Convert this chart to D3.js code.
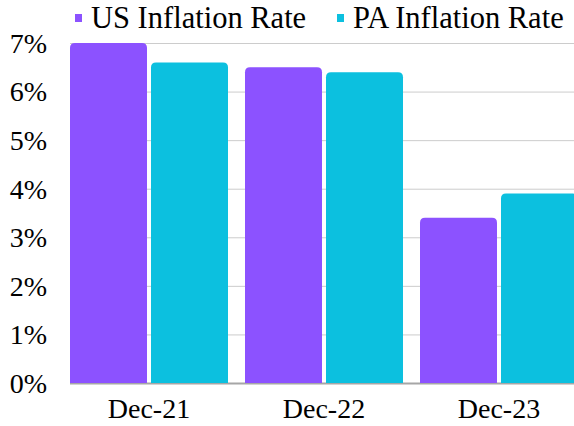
<!DOCTYPE html>
<html>
<head>
<meta charset="utf-8">
<title>Inflation Rate</title>
<script src="https://d3js.org/d3.v7.min.js"></script>
<style>
  html, body { margin: 0; padding: 0; background: #fff; overflow: hidden; }
  text { font-family: "Liberation Serif", "Times New Roman", serif; fill: #000; }
</style>
</head>
<body>
<div id="chart"></div>
<script>
// data
var categories = ["Dec-21", "Dec-22", "Dec-23"];
var seriesNames = ["US Inflation Rate", "PA Inflation Rate"];
var usRate = [0.070, 0.065, 0.034];
var paRate = [0.066, 0.064, 0.039];
var yTicks = [0, 0.01, 0.02, 0.03, 0.04, 0.05, 0.06, 0.07];
var colors = ["#8c52ff", "#0cc0df"];

var width = 574, height = 426;
var plotLeft = 70, plotTop = 43, plotBottom = 383;

var svg = d3.select("#chart").append("svg")
    .attr("width", width)
    .attr("height", height);

// scales
var x0 = d3.scaleBand()
    .domain(categories)
    .range([61.5, 586.5])
    .padding(0);

var x1 = d3.scaleBand()
    .domain(seriesNames)
    .range([8.5, x0.bandwidth() - 8.5])
    .paddingInner(0.0494);

var y = d3.scaleLinear()
    .domain([0, 0.07])
    .range([plotBottom, plotTop]);

// gridlines
svg.append("g").selectAll("line")
    .data(yTicks)
    .join("line")
    .attr("x1", plotLeft)
    .attr("x2", width)
    .attr("y1", function(d) { return y(d) + 0.5; })
    .attr("y2", function(d) { return y(d) + 0.5; })
    .attr("stroke", function(d) { return d === 0 ? "#a6a6a6" : "#cccccc"; })
    .attr("stroke-width", function(d) { return d === 0 ? 2 : 1; });

// y tick labels
svg.append("g").selectAll("text")
    .data(yTicks)
    .join("text")
    .attr("x", 47)
    .attr("y", function(d) { return y(d); })
    .attr("dy", "0.35em")
    .attr("text-anchor", "end")
    .style("font-size", "28px")
    .text(d3.format(".0%"));

// bars with rounded tops
var rows = categories.map(function(c, i) {
  return [
    {cat: c, key: seriesNames[0], v: usRate[i], color: colors[0]},
    {cat: c, key: seriesNames[1], v: paRate[i], color: colors[1]}
  ];
});

function topRounded(x, yTop, w, yBot, r) {
  return "M" + x + "," + yBot +
    "V" + (yTop + r) +
    "Q" + x + "," + yTop + " " + (x + r) + "," + yTop +
    "H" + (x + w - r) +
    "Q" + (x + w) + "," + yTop + " " + (x + w) + "," + (yTop + r) +
    "V" + yBot + "Z";
}

svg.append("g").selectAll("g")
    .data(rows)
    .join("g")
    .attr("transform", function(d) { return "translate(" + x0(d[0].cat) + ",0)"; })
  .selectAll("path")
    .data(function(d) { return d; })
    .join("path")
    .attr("fill", function(d) { return d.color; })
    .attr("d", function(d) {
      return topRounded(x1(d.key), y(d.v), x1.bandwidth(), y(0), 5);
    });

// x labels
svg.append("g").selectAll("text")
    .data(categories)
    .join("text")
    .attr("x", function(d) { return x0(d) + x0.bandwidth() / 2; })
    .attr("y", 418)
    .attr("text-anchor", "middle")
    .style("font-size", "28px")
    .text(function(d) { return d; });

// legend
var legend = svg.append("g");
var legendX = [75, 337];
seriesNames.forEach(function(name, i) {
  var g = legend.append("g").attr("transform", "translate(" + legendX[i] + ",0)");
  g.append("rect")
    .attr("x", 0).attr("y", 14)
    .attr("width", 7).attr("height", 8)
    .attr("fill", colors[i]);
  g.append("text")
    .attr("x", 16).attr("y", 28)
    .style("font-size", "30.5px")
    .text(name);
});
</script>
</body>
</html>
